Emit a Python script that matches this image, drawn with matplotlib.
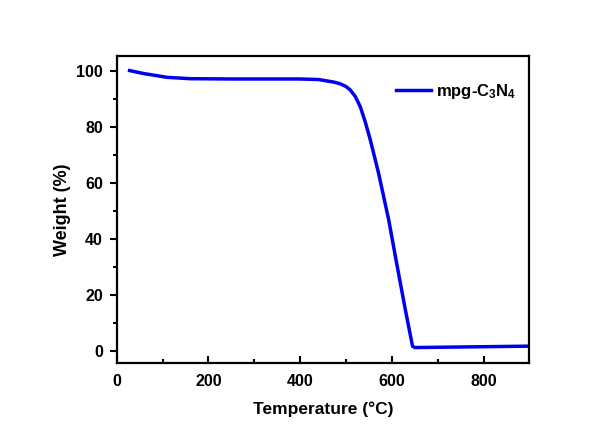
import matplotlib
matplotlib.use("Agg")
import matplotlib.pyplot as plt
from matplotlib.ticker import MultipleLocator

plt.rcParams['font.family'] = ['Liberation Sans', 'DejaVu Sans']
plt.rcParams['font.weight'] = 'bold'
plt.rcParams['mathtext.fontset'] = 'custom'
plt.rcParams['mathtext.rm'] = 'Liberation Sans:bold'
plt.rcParams['mathtext.it'] = 'Liberation Sans:bold'
plt.rcParams['mathtext.bf'] = 'Liberation Sans:bold'
plt.rcParams['mathtext.default'] = 'rm'

temperature = [28, 60, 109, 160, 254, 330, 400, 440, 473, 487, 500, 509, 520, 531, 542, 553,
               571, 593, 610, 630, 645, 650, 700, 800, 900]
weight = [100.0, 98.9, 97.6, 97.1, 97.0, 97.0, 97.0, 96.8, 95.9, 95.3, 94.3, 93.1, 90.8, 87.1,
          81.6, 75.2, 63.3, 46.7, 31.5, 14.0, 1.6, 1.1, 1.2, 1.4, 1.6]
series_label = 'mpg-C$_3$N$_4$'

fig = plt.figure(figsize=(6.02, 4.26), dpi=100)
ax = fig.add_axes([0.194, 0.148, 0.6855, 0.7205])
ax.plot(temperature, weight, color='#0000ee', lw=2.5, label=series_label)

ax.set_xlim(0, 900)
ax.set_ylim(-4.4, 105.2)
ax.xaxis.set_major_locator(MultipleLocator(200))
ax.xaxis.set_minor_locator(MultipleLocator(100))
ax.yaxis.set_major_locator(MultipleLocator(20))
ax.yaxis.set_minor_locator(MultipleLocator(10))
ax.tick_params(axis='x', which='both', direction='in', top=False, labelsize=11.5, width=1.5, pad=8)
ax.tick_params(axis='x', which='major', length=5)
ax.tick_params(axis='x', which='minor', length=3)
ax.tick_params(axis='y', which='both', direction='out', right=False, labelsize=11.5, width=1.5, pad=5)
ax.tick_params(axis='y', which='major', length=5)
ax.tick_params(axis='y', which='minor', length=3)
for s in ax.spines.values():
    s.set_linewidth(1.6)

ax.set_xlabel('Temperature (\u00b0C)', fontsize=12.5, fontweight='bold', labelpad=9)
ax.set_ylabel('Weight (%)', fontsize=13, fontweight='bold', labelpad=4)

leg = ax.legend(loc='upper right', frameon=False, fontsize=12, handlelength=2.1,
                handletextpad=0.3, bbox_to_anchor=(1.005, 0.965))

fig.savefig('out.png', dpi=100, facecolor='white')
